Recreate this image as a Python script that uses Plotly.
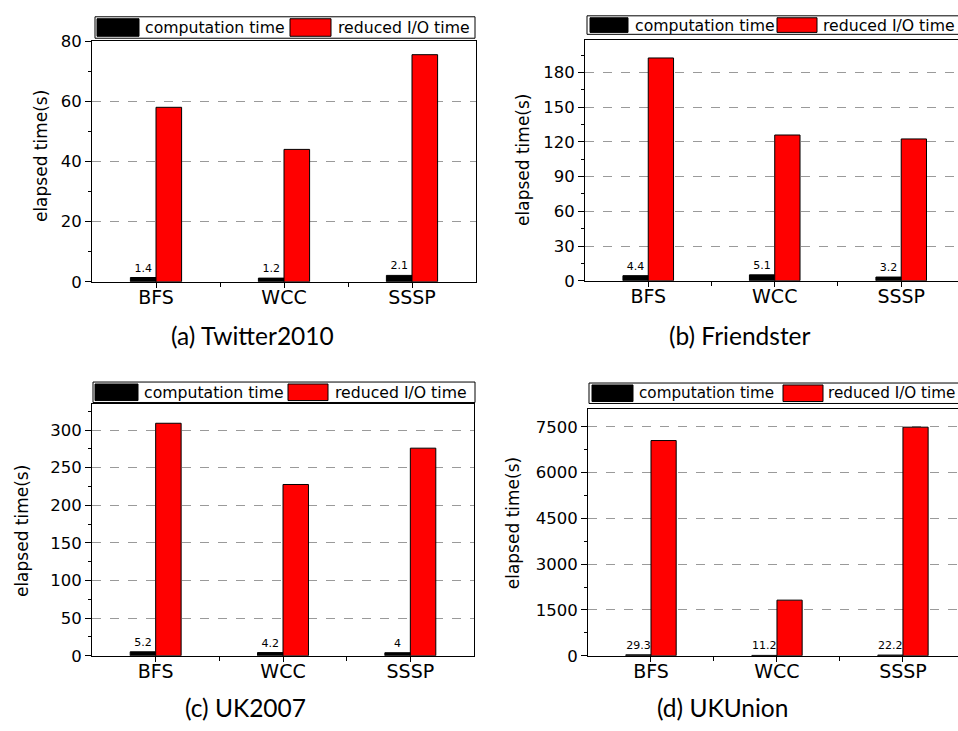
import plotly.graph_objects as go

# ---------------- data ----------------
categories = ["BFS", "WCC", "SSSP"]
series_names = ["computation time", "reduced I/O time"]

twitter_comp = [1.4, 1.2, 2.1]
twitter_io = [58.0, 44.0, 75.5]

friendster_comp = [4.4, 5.1, 3.2]
friendster_io = [192.6, 126.0, 122.6]

uk2007_comp = [5.2, 4.2, 4.0]
uk2007_io = [309.0, 227.6, 275.9]

ukunion_comp = [29.3, 11.2, 22.2]
ukunion_io = [7052.0, 1822.0, 7490.0]

captions = ["(a) Twitter2010", "(b) Friendster", "(c) UK2007", "(d) UKUnion"]
y_title = "elapsed time(s)"

# ---------------- layout helpers ----------------
W, H = 958, 731
def px(x):
    return x / W
def py(y):
    return 1 - y / H

panels = [
    dict(comp=twitter_comp, io=twitter_io, xd=(92, 476), yd=(33, 280), yr=[0, 80],
         dt=20, mdt=10, xr=[-0.5, 2.5], mirror_y=True,
         ytitle=(41, 151), cap=(252, 335), lfs=15.7,
         leg=dict(box=(95, 8, 475, 30), s1=(97, 139), t1=144, s2=(290, 331), t2=337)),
    dict(comp=friendster_comp, io=friendster_io, xd=(585, 958), yd=(32, 279), yr=[0, 208],
         dt=30, mdt=15, xr=[-0.5, 2.449], mirror_y=False,
         ytitle=(523, 155), cap=(740, 335), lfs=15.7,
         leg=dict(box=(587, 7, 970, 26), s1=(590, 628), t1=634, s2=(777, 817), t2=822)),
    dict(comp=uk2007_comp, io=uk2007_io, xd=(92, 474), yd=(406, 664), yr=[0, 334],
         dt=50, mdt=25, xr=[-0.5, 2.5], mirror_y=True,
         ytitle=(22, 536), cap=(245, 717), lfs=15.7,
         leg=dict(box=(93, 383, 475, 404), s1=(95, 138), t1=143, s2=(288, 328), t2=334)),
    dict(comp=ukunion_comp, io=ukunion_io, xd=(588, 958), yd=(411, 664), yr=[0, 8075],
         dt=1500, mdt=750, xr=[-0.5, 2.437], mirror_y=False,
         ytitle=(513, 528), cap=(722, 717), lfs=15.2,
         leg=dict(box=(589, 384, 970, 405), s1=(592, 633), t1=638, s2=(783, 823), t2=827)),
]

FONT = "DejaVu Sans"
CAP_FONT = "Lato"
xs = list(range(len(categories)))

fig = go.Figure()
shapes = []
annotations = []
layout = dict(
    width=W, height=H,
    margin=dict(l=0, r=0, t=0, b=0),
    paper_bgcolor="white", plot_bgcolor="white",
    barmode="group", bargap=0.6, bargroupgap=0,
    showlegend=False,
    font=dict(family=FONT, color="black"),
)

for i, p in enumerate(panels):
    n = "" if i == 0 else str(i + 1)
    xa, ya = "x" + n, "y" + n
    fig.add_trace(go.Bar(
        x=xs, y=p["comp"], name=series_names[0], xaxis=xa, yaxis=ya,
        marker=dict(color="#000000", line=dict(color="#000000", width=1)),
        text=[f"{v:g}" for v in p["comp"]], textposition="outside",
        textfont=dict(family=FONT, size=11, color="black"),
        cliponaxis=False,
    ))
    fig.add_trace(go.Bar(
        x=xs, y=p["io"], name=series_names[1], xaxis=xa, yaxis=ya,
        marker=dict(color="#ff0000", line=dict(color="#000000", width=1)),
    ))
    layout["xaxis" + n] = dict(
        domain=[px(p["xd"][0]), px(p["xd"][1])], anchor=ya, range=p["xr"],
        tickmode="array", tickvals=xs, ticktext=categories,
        ticks="outside", ticklen=5, tickcolor="black", tickwidth=1,
        ticklabelstandoff=-7,
        minor=dict(tickvals=[0.5, 1.5], ticks="outside", ticklen=4, tickcolor="black", showgrid=False),
        showline=True, linecolor="black", linewidth=1, mirror=True,
        showgrid=False, zeroline=False,
        tickfont=dict(family=FONT, size=19, color="black"),
        fixedrange=True,
    )
    layout["yaxis" + n] = dict(
        domain=[py(p["yd"][1]), py(p["yd"][0])], anchor=xa, range=p["yr"],
        tick0=0, dtick=p["dt"], tickformat="d",
        ticks="outside", ticklen=6, tickcolor="black", tickwidth=1,
        minor=dict(dtick=p["mdt"], tick0=0, ticks="outside", ticklen=3, tickcolor="black", showgrid=False),
        showline=True, linecolor="black", linewidth=1, mirror=p["mirror_y"],
        showgrid=True, gridcolor="#9a9a9a", gridwidth=1, griddash="dash",
        zeroline=False,
        tickfont=dict(family=FONT, size=16.5, color="black"),
        fixedrange=True,
    )
    # y-axis title
    annotations.append(dict(
        text=y_title, x=px(p["ytitle"][0]), y=py(p["ytitle"][1]), xref="paper", yref="paper",
        textangle=-90, showarrow=False, xanchor="center", yanchor="middle",
        font=dict(family=FONT, size=17, color="black")))
    # caption
    annotations.append(dict(
        text=captions[i], x=px(p["cap"][0]), y=py(p["cap"][1]), xref="paper", yref="paper",
        showarrow=False, xanchor="center", yanchor="middle",
        font=dict(family=CAP_FONT, size=24.5, color="black")))
    # legend box (drawn manually)
    L = p["leg"]
    bx0, by0, bx1, by1 = L["box"]
    shapes.append(dict(type="rect", xref="paper", yref="paper",
                       x0=px(bx0), x1=px(bx1), y0=py(by1), y1=py(by0),
                       line=dict(color="black", width=1), fillcolor="white", layer="above"))
    pad = 2
    for (sx0, sx1), col, tx, label in [(L["s1"], "#000000", L["t1"], series_names[0]),
                                       (L["s2"], "#ff0000", L["t2"], series_names[1])]:
        shapes.append(dict(type="rect", xref="paper", yref="paper",
                           x0=px(sx0), x1=px(sx1), y0=py(by1 - pad), y1=py(by0 + pad),
                           line=dict(color="black", width=1), fillcolor=col, layer="above"))
        annotations.append(dict(
            text=label, x=px(tx), y=py((by0 + by1) / 2), xref="paper", yref="paper",
            showarrow=False, xanchor="left", yanchor="middle", borderpad=0,
            font=dict(family=FONT, size=p["lfs"], color="black")))

layout["shapes"] = shapes
layout["annotations"] = annotations
fig.update_layout(**layout)
fig.write_html("out.html",
               config={"displayModeBar": False},
               post_script="document.body.style.margin='0';document.body.style.overflow='hidden';")
